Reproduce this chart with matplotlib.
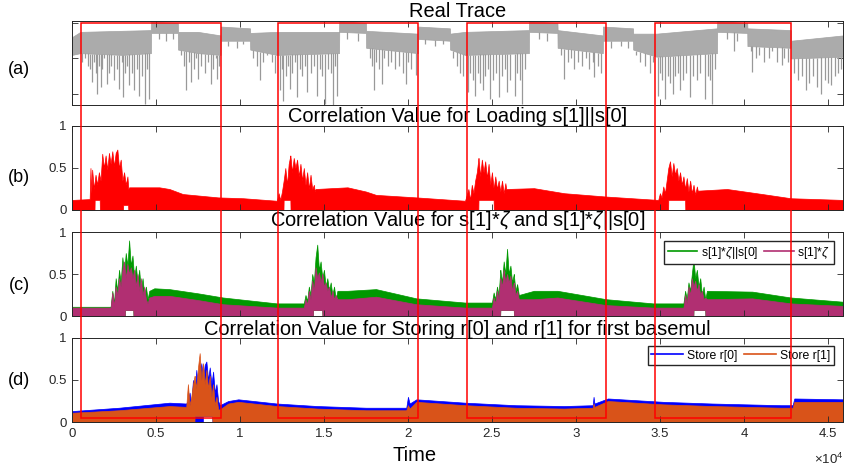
import numpy as np
import matplotlib
matplotlib.use('Agg')
import matplotlib.pyplot as plt
from matplotlib import transforms
from matplotlib.lines import Line2D
from matplotlib.patches import Rectangle
from matplotlib.ticker import FuncFormatter

plt.rcParams['font.family'] = ['Liberation Sans', 'DejaVu Sans']
plt.rcParams['mathtext.fontset'] = 'custom'
plt.rcParams['mathtext.rm'] = 'Liberation Sans'
plt.rcParams['mathtext.it'] = 'Liberation Sans:italic'

# ---- data (time in thousands of samples) ----
x_end = 45.9

# (a) real trace: dense band + downward spikes
xa = [0.0, 0.5, 3.0, 4.7, 4.71, 6.3, 6.31, 7.5, 8.85, 8.86, 10.6, 10.61, 12.2, 15.9,
      15.91, 17.5, 17.51, 20.6, 20.61, 22.5, 22.51, 23.4, 27.2, 27.21, 28.9, 28.91,
      31.6, 31.61, 33.4, 33.41, 34.8, 38.4, 38.41, 40.2, 40.21, 42.8, 42.81, 45.9]
trace_hi = [1.6, 1.75, 1.78, 1.8, 2.03, 2.0, 1.75, 1.75, 1.65, 1.9, 1.85, 1.72, 1.75, 1.75,
            2.05, 2.0, 1.78, 1.7, 1.9, 1.85, 1.7, 1.75, 1.8, 2.05, 2.0, 1.8,
            1.65, 1.9, 1.85, 1.7, 1.7, 1.85, 2.05, 2.0, 1.85, 1.8, 1.5, 1.65]
trace_lo = [1.1, 1.15, 1.1, 1.15, 1.72, 1.72, 1.25, 1.15, 1.1, 1.5, 1.5, 1.25, 1.1, 1.15,
            1.75, 1.72, 1.3, 1.15, 1.55, 1.5, 1.25, 1.1, 1.15, 1.75, 1.72, 1.3,
            1.15, 1.5, 1.5, 1.25, 1.05, 1.15, 1.75, 1.72, 1.35, 1.3, 1.0, 1.05]
deep_x = [1.21, 1.5, 1.71, 2.09, 2.53, 2.82, 3.06, 3.41, 3.71, 4.0, 4.35, 4.59,
          6.79, 7.09, 7.53, 8.26, 8.65, 11.2, 12.38, 12.59, 12.97, 13.41, 14.0,
          14.59, 15.09, 15.53, 15.76, 17.97, 18.47, 19.88, 20.47, 23.56, 24.0,
          24.44, 24.88, 25.41, 25.91, 26.35, 26.79, 29.29, 31.06, 34.88, 35.32,
          35.76, 36.21, 36.79, 37.68, 38.12, 39.44, 40.47, 42.24, 43.7, 44.59, 45.18]
deep_y = [0.33, 0.0, 0.19, 0.29, 0.38, 0.14, -0.1, 0.24, 0.1, -0.05, -0.29, -0.14,
          0.1, 0.33, 0.43, 0.29, 0.43, 0.38, 0.1, -0.19, 0.14, -0.1, 0.05,
          -0.05, -0.29, -0.33, -0.05, 0.1, 0.29, 0.29, 0.52, 0.05, -0.05,
          0.1, -0.14, -0.1, 0.05, -0.05, -0.29, 0.43, 0.48, -0.05, -0.14,
          0.0, 0.1, -0.1, -0.14, -0.29, 1.2, 0.62, 0.81, 0.1, 0.0, 0.24]
mid_x = [0.6, 0.8, 0.95, 1.1, 1.3, 1.4, 1.6, 1.8, 1.9, 2.2, 2.35, 2.65, 2.95, 3.15, 3.3,
         3.55, 3.85, 4.15, 4.45, 6.5, 6.65, 6.95, 7.25, 7.4, 7.7, 7.9, 8.1, 8.4, 8.55, 8.75,
         10.8, 11.0, 11.4, 11.6, 11.9, 12.1, 12.5, 12.75, 12.85, 13.1, 13.3, 13.55, 13.7,
         13.85, 14.2, 14.4, 14.75, 14.9, 15.25, 15.4, 15.65, 17.75, 17.85, 18.1, 18.3,
         18.6, 18.8, 19.0, 19.2, 19.45, 19.7, 20.0, 20.2, 22.7, 22.9, 23.1, 23.3, 23.7,
         23.85, 24.2, 24.3, 24.6, 24.75, 25.05, 25.25, 25.6, 25.75, 26.1, 26.5, 26.65,
         26.95, 29.1, 29.5, 29.7, 29.9, 30.1, 30.35, 30.6, 30.8, 31.0, 31.3, 31.5, 33.6,
         33.8, 34.1, 34.4, 34.6, 35.0, 35.1, 35.5, 35.6, 35.9, 36.05, 36.4, 36.55, 36.95,
         37.2, 37.4, 37.85, 38.0, 38.3, 40.4, 40.7, 40.9, 41.2, 41.5, 41.7, 41.95, 42.4,
         42.6, 43.0, 43.2, 43.45, 43.9, 44.1, 44.35, 44.8, 45.0, 45.4, 45.6, 45.8,
         5.2, 5.6, 6.0, 9.3, 9.8, 10.2, 16.4, 17.0, 21.0, 21.6, 22.1, 27.8, 28.3, 32.1,
         32.7, 33.1, 39.0, 39.6]
mid_y = [0.9, 1.0, 0.8, 0.7, 0.9, 0.6, 0.8, 0.7, 1.0, 0.6, 0.8, 0.7, 0.9, 0.6, 0.8,
         0.6, 0.7, 0.5, 0.7, 1.1, 0.8, 0.9, 0.7, 1.0, 0.8, 0.6, 0.9, 0.7, 1.0, 0.8,
         1.0, 0.8, 0.9, 1.1, 0.9, 0.6, 0.7, 0.5, 0.8, 0.6, 0.9, 0.7, 0.5,
         0.8, 0.6, 0.8, 0.7, 0.5, 0.7, 0.6, 0.8, 1.0, 0.8, 0.9, 0.7,
         1.0, 0.8, 0.9, 0.7, 0.8, 0.6, 0.9, 0.7, 1.0, 0.8, 0.6, 0.5, 0.6,
         0.4, 0.6, 0.3, 0.5, 0.7, 0.4, 0.6, 0.5, 0.7, 0.4, 0.6, 0.4,
         0.7, 1.1, 0.9, 1.0, 0.7, 0.9, 0.8, 1.0, 0.7, 0.9, 0.8, 0.6, 1.1,
         0.9, 0.8, 0.6, 0.9, 0.6, 0.4, 0.5, 0.3, 0.5, 0.6, 0.4, 0.6, 0.5,
         0.4, 0.6, 0.5, 0.4, 0.7, 1.2, 1.0, 1.1, 0.9, 1.0, 1.2, 0.9, 1.0,
         0.9, 0.6, 0.4, 0.5, 0.3, 0.5, 0.2, 0.4, 0.3, 0.5, 0.6, 0.7,
         1.55, 1.5, 1.55, 1.35, 1.3, 1.4, 1.55, 1.5, 1.4, 1.35, 1.4, 1.55, 1.5, 1.3,
         1.35, 1.3, 1.55, 1.5]

# (b) loading s[1]||s[0]
xb = [0.0, 1.05, 1.1, 1.15, 1.2, 1.3, 1.4, 1.5, 1.6, 1.7, 1.8, 1.9, 2.0, 2.1, 2.2, 2.3,
      2.4, 2.5, 2.6, 2.7, 2.8, 2.9, 3.0, 3.1, 3.2, 3.3, 3.35, 3.4, 4.6, 5.2, 5.8, 6.6,
      8.7, 10.2, 12.2, 12.3, 12.4, 12.5, 12.6, 12.7, 12.8, 12.9, 13.0, 13.1, 13.2, 13.3,
      13.4, 13.5, 13.6, 13.7, 13.8, 13.9, 14.0, 14.1, 14.2, 14.3, 14.4, 14.45, 14.5,
      16.4, 17.5, 18.1, 20.5, 23.4, 23.6, 23.7, 23.8, 23.9, 24.0, 24.1, 24.2, 24.3,
      24.4, 24.5, 24.6, 24.7, 24.8, 24.9, 25.0, 25.1, 25.2, 25.3, 25.4, 25.5, 25.6,
      25.7, 25.8, 25.85, 27.5, 29.3, 31.8, 34.9, 35.0, 35.1, 35.2, 35.3, 35.4, 35.5,
      35.6, 35.7, 35.8, 35.9, 36.0, 36.1, 36.2, 36.3, 36.4, 36.5, 36.6, 36.7, 36.8,
      36.9, 37.0, 37.1, 37.2, 37.25, 39.0, 41.1, 42.8, 45.9]
load_hi = [0.12, 0.13, 0.5, 0.2, 0.48, 0.25, 0.42, 0.3, 0.45, 0.35, 0.67, 0.5, 0.65, 0.48,
           0.68, 0.55, 0.7, 0.52, 0.68, 0.72, 0.5, 0.6, 0.35, 0.45, 0.3, 0.4, 0.25, 0.27,
           0.27, 0.27, 0.25, 0.19, 0.15, 0.14, 0.11, 0.2, 0.12, 0.22, 0.35, 0.5, 0.3,
           0.55, 0.65, 0.45, 0.62, 0.5, 0.6, 0.4, 0.55, 0.35, 0.5, 0.3, 0.45, 0.25,
           0.42, 0.25, 0.3, 0.22, 0.25, 0.27, 0.22, 0.18, 0.15, 0.11, 0.25, 0.12, 0.3,
           0.2, 0.35, 0.45, 0.62, 0.4, 0.6, 0.45, 0.58, 0.38, 0.55, 0.3, 0.45, 0.25,
           0.4, 0.25, 0.35, 0.22, 0.35, 0.2, 0.32, 0.25, 0.26, 0.2, 0.16, 0.12, 0.2,
           0.15, 0.28, 0.2, 0.35, 0.5, 0.58, 0.4, 0.56, 0.42, 0.5, 0.35, 0.45, 0.3,
           0.4, 0.25, 0.38, 0.22, 0.35, 0.2, 0.3, 0.18, 0.28, 0.23, 0.25, 0.19, 0.14, 0.12]
load_lo_x = [0, 1.34, 1.35, 1.65, 1.66, 3.04, 3.05, 3.34, 3.35, 12.59, 12.6, 13.0, 13.01,
             24.19, 24.2, 25.1, 25.11, 35.49, 35.5, 36.5, 36.51, 45.9]
load_lo = [0, 0, 0.12, 0.12, 0, 0, 0.06, 0.06, 0, 0, 0.12, 0.12, 0,
           0, 0.12, 0.12, 0, 0, 0.12, 0.12, 0, 0]

# (c) s[1]*zeta||s[0] and s[1]*zeta
xc = [0.0, 2.3, 2.4, 2.5, 2.6, 2.7, 2.8, 2.9, 3.0, 3.1, 3.2, 3.3, 3.4, 3.5, 3.6, 3.7, 3.8,
      3.9, 4.0, 4.1, 4.2, 4.3, 4.4, 4.5, 4.6, 4.9, 5.8, 7.5, 9.0, 12.2, 13.8, 13.9, 14.0,
      14.1, 14.2, 14.3, 14.4, 14.5, 14.6, 14.7, 14.8, 14.9, 15.0, 15.1, 15.2, 15.3, 15.4,
      15.5, 15.6, 15.7, 15.8, 16.4, 18.1, 20.5, 23.4, 25.0, 25.1, 25.2, 25.3, 25.4, 25.5,
      25.6, 25.7, 25.8, 25.9, 26.0, 26.1, 26.2, 26.3, 26.4, 26.5, 26.6, 27.5, 28.9, 31.8,
      34.6, 36.4, 36.5, 36.6, 36.7, 36.8, 36.9, 37.0, 37.1, 37.2, 37.3, 37.4, 37.5, 37.6,
      37.7, 37.8, 40.5, 42.8, 45.9]
zeta_s0_hi = [0.11, 0.11, 0.3, 0.15, 0.45, 0.3, 0.55, 0.4, 0.7, 0.5, 0.75, 0.6, 0.9, 0.6,
              0.72, 0.45, 0.6, 0.4, 0.55, 0.3, 0.45, 0.25, 0.35, 0.2, 0.3, 0.33, 0.32, 0.27,
              0.22, 0.15, 0.15, 0.25, 0.18, 0.35, 0.25, 0.5, 0.4, 0.7, 0.85, 0.55, 0.65,
              0.45, 0.55, 0.35, 0.45, 0.3, 0.4, 0.25, 0.35, 0.2, 0.3, 0.3, 0.32, 0.21,
              0.16, 0.16, 0.28, 0.2, 0.35, 0.25, 0.55, 0.4, 0.65, 0.5, 0.8, 0.5, 0.6,
              0.4, 0.5, 0.3, 0.38, 0.25, 0.3, 0.3, 0.2, 0.15, 0.15, 0.3, 0.2, 0.4, 0.3,
              0.5, 0.68, 0.45, 0.55, 0.35, 0.45, 0.25, 0.35, 0.2, 0.3, 0.29, 0.22, 0.17]
zeta_hi = [0.1, 0.1, 0.28, 0.12, 0.35, 0.25, 0.45, 0.35, 0.55, 0.65, 0.45, 0.62, 0.5, 0.58,
           0.45, 0.55, 0.35, 0.5, 0.3, 0.45, 0.25, 0.35, 0.2, 0.15, 0.22, 0.24, 0.24, 0.19,
           0.14, 0.1, 0.1, 0.2, 0.14, 0.3, 0.2, 0.42, 0.3, 0.58, 0.45, 0.52, 0.4,
           0.5, 0.35, 0.4, 0.3, 0.35, 0.22, 0.3, 0.2, 0.25, 0.2, 0.2, 0.23, 0.14,
           0.1, 0.1, 0.22, 0.15, 0.3, 0.2, 0.45, 0.35, 0.55, 0.4, 0.5, 0.4, 0.48,
           0.3, 0.4, 0.25, 0.3, 0.2, 0.2, 0.22, 0.13, 0.1, 0.1, 0.25, 0.15, 0.35, 0.25,
           0.45, 0.35, 0.42, 0.3, 0.38, 0.25, 0.3, 0.2, 0.22, 0.2, 0.21, 0.15, 0.12]
zeta_lo_x = [0, 3.14, 3.15, 3.65, 3.66, 14.34, 14.35, 14.9, 14.91, 25.49, 25.5, 26.3, 26.31,
             36.99, 37.0, 37.7, 37.71, 45.9]
zeta_lo = [0, 0, 0.07, 0.07, 0, 0, 0.07, 0.07, 0, 0, 0.07, 0.07, 0, 0, 0.07, 0.07, 0, 0]

# (d) store r[0] and r[1]
xd = [0.0, 2.8, 5.8, 6.8, 6.9, 7.0, 7.1, 7.2, 7.3, 7.4, 7.5, 7.6, 7.7, 7.8, 7.9, 8.0, 8.1,
      8.2, 8.3, 8.4, 8.5, 8.6, 8.7, 8.8, 9.3, 9.9, 12.2, 14.6, 17.5, 19.9, 20.0, 20.1,
      20.5, 23.4, 26.4, 29.3, 31.0, 31.05, 31.1, 31.9, 35.2, 38.1, 42.2, 42.9, 43.0, 45.9]
r0_hi = [0.13, 0.17, 0.23, 0.22, 0.25, 0.35, 0.2, 0.5, 0.3, 0.62, 0.4, 0.55, 0.7, 0.5,
         0.68, 0.72, 0.5, 0.65, 0.45, 0.6, 0.35, 0.45, 0.25, 0.2, 0.25, 0.27, 0.22, 0.19,
         0.17, 0.17, 0.3, 0.22, 0.27, 0.23, 0.2, 0.19, 0.2, 0.3, 0.22, 0.28, 0.24, 0.22,
         0.2, 0.2, 0.28, 0.27]
r1_hi = [0.11, 0.14, 0.19, 0.18, 0.45, 0.2, 0.3, 0.45, 0.55, 0.4, 0.65, 0.82, 0.5, 0.7,
         0.45, 0.62, 0.4, 0.55, 0.3, 0.45, 0.2, 0.3, 0.15, 0.15, 0.22, 0.24, 0.19, 0.16,
         0.14, 0.14, 0.2, 0.16, 0.24, 0.2, 0.17, 0.16, 0.17, 0.22, 0.18, 0.25, 0.21, 0.19,
         0.17, 0.17, 0.24, 0.24]
r0_lo_x = [0, 7.79, 7.8, 8.35, 8.36, 45.9]
r0_lo = [0, 0, 0.07, 0.07, 0, 0]
r1_lo_x = [0, 7.29, 7.3, 8.35, 8.36, 45.9]
r1_lo = [0, 0, 0.07, 0.07, 0, 0]

boxes = [(0.54, 8.87), (12.26, 20.6), (23.51, 31.79), (34.7, 42.8)]

titles = ['Real Trace',
          'Correlation Value for Loading s[1]||s[0]',
          r'Correlation Value for s[1]*$\zeta$ and s[1]*$\zeta$||s[0]',
          'Correlation Value for Storing r[0] and r[1] for first basemul']
panel_labels = ['(a)', '(b)', '(c)', '(d)']

k = 1000.0
dark = '#262626'


def band(ax, xh, yh, xl, yl, color):
    grid = np.union1d(xh, xl)
    hi = np.interp(grid, xh, yh)
    lo = np.interp(grid, xl, yl)
    ax.fill_between(grid * k, lo, hi, color=color, lw=0.5, ec=color)


# ---- figure ----
W, H = 845, 473
fig = plt.figure(figsize=(W / 100, H / 100), dpi=100)
tops = [21, 126, 232, 338]
label_y = [70, 177, 285, 380]
axes = [fig.add_axes([72 / W, 1 - (t + 84) / H, 771 / W, 84 / H]) for t in tops]

gray = '#999999'
ax = axes[0]
ax.fill_between(np.array(xa) * k, trace_lo, trace_hi, color='#ababab', lw=0.5, ec='#a3a3a3')
for sx, sy in [(deep_x, deep_y), (mid_x, mid_y)]:
    sx = np.array(sx)
    ax.vlines(sx * k, sy, np.interp(sx, xa, trace_lo), color=gray, lw=0.9)
ax.set_ylim(-0.314, 2.057)
ax.set_yticks([0, 1, 2])
ax.set_yticklabels([])

band(axes[1], xb, load_hi, load_lo_x, load_lo, 'red')

band(axes[2], xc, zeta_s0_hi, zeta_lo_x, zeta_lo, '#009900')
band(axes[2], xc, zeta_hi, zeta_lo_x, zeta_lo, '#b12f72')
axes[2].legend(handles=[Line2D([], [], color='#009900', lw=1.2),
                        Line2D([], [], color='#b12f72', lw=1.2)],
               labels=[r's[1]*$\zeta$||s[0]', r's[1]*$\zeta$'],
               ncol=2, loc='upper right', bbox_to_anchor=(0.988, 0.893), borderaxespad=0,
               fancybox=False, edgecolor=dark, framealpha=1, fontsize=8.8,
               handlelength=2.4, handletextpad=0.3, columnspacing=0.5, borderpad=0.3)

band(axes[3], xd, r0_hi, r0_lo_x, r0_lo, '#0000ff')
band(axes[3], xd, r1_hi, r1_lo_x, r1_lo, '#d95319')
axes[3].legend(handles=[Line2D([], [], color='#0000ff', lw=1.2),
                        Line2D([], [], color='#d95319', lw=1.2)],
               labels=['Store r[0]', 'Store r[1]'],
               ncol=2, loc='upper right', bbox_to_anchor=(0.988, 0.905), borderaxespad=0,
               fancybox=False, edgecolor=dark, framealpha=1, fontsize=8.8,
               handlelength=2.6, handletextpad=0.3, columnspacing=0.6, borderpad=0.3)

for i, ax in enumerate(axes):
    ax.set_xlim(0, x_end * k)
    ax.set_xticks(np.arange(0, 45001, 5000))
    if i > 0:
        ax.set_ylim(0, 1)
        ax.set_yticks([0, 0.5, 1])
        ax.set_yticklabels(['0', '0.5', '1'])
    if i < 3:
        ax.set_xticklabels([])
    else:
        ax.xaxis.set_major_formatter(FuncFormatter(lambda v, p: f'{v / 1e4:g}'))
    ax.tick_params(direction='in', length=4, width=0.6, top=True, right=True,
                   labelsize=9.5, colors=dark, pad=4)
    for s in ax.spines.values():
        s.set_linewidth(0.7)
        s.set_color(dark)
    ax.set_title(titles[i], fontsize=14.4, pad=2.5)
    fig.text(19 / W, 1 - label_y[i] / H, panel_labels[i], ha='center', va='center', fontsize=13)

fig.text(415 / W, 1 - 455 / H, 'Time', ha='center', va='center', fontsize=14.5)
fig.text(843 / W, 1 - 464 / H, r'$\times10^{4}$', ha='right', va='baseline', fontsize=9.5, color=dark)

# red boxes spanning all panels
blend = transforms.blended_transform_factory(axes[3].transData, fig.transFigure)
for x0, x1 in boxes:
    r = Rectangle((x0 * k, 1 - 418 / H), (x1 - x0) * k, (418 - 23) / H, transform=blend,
                  fill=False, ec='red', lw=1.1, zorder=20)
    fig.add_artist(r)

fig.savefig('out.png', dpi=100)
